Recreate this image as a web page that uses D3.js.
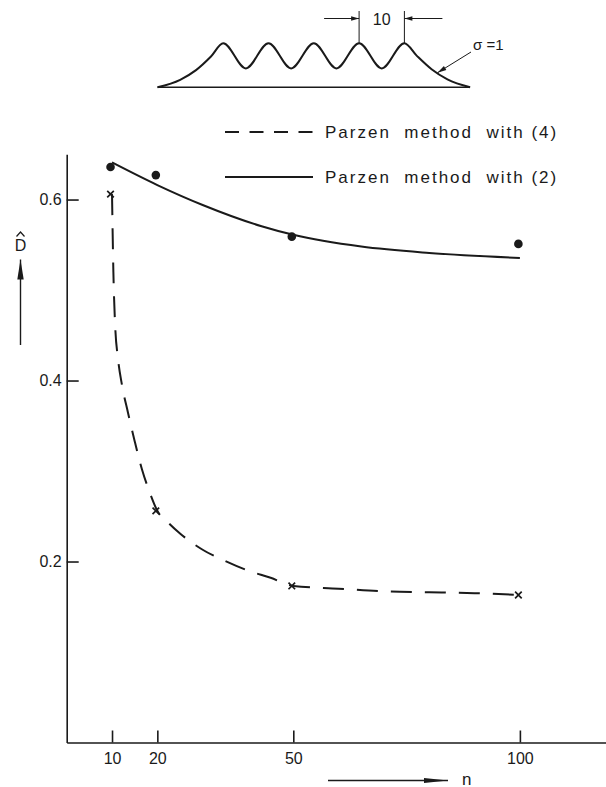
<!DOCTYPE html>
<html lang="en">
<head>
<meta charset="UTF-8">
<title>Parzen estimate of D versus n</title>
<script src="https://d3js.org/d3.v7.min.js"></script>
<style>
  body { margin: 0; background: #fff; }
  svg { display: block; font-family: "Liberation Sans", Arial, sans-serif; }
  .axis path, .axis line { stroke: #1a1a1a; stroke-width: 1.6; }
  .axis text { font-size: 16px; fill: #1a1a1a; font-family: "Liberation Sans", Arial, sans-serif; }
  .legend text { font-size: 17px; letter-spacing: 2px; white-space: pre; fill: #1a1a1a; }
</style>
</head>
<body>
<svg id="chart" width="606" height="787"></svg>
<script>
var ink = "#1a1a1a";

// axis ticks
var nTicks = [10, 20, 50, 100];
var dTicks = [0.2, 0.4, 0.6];

// measured estimates
var dotsEq2 = [[10, 0.636], [20, 0.627], [50, 0.559], [100, 0.551]];
var crossEq4 = [[10, 0.606], [20, 0.256], [50, 0.173], [100, 0.163]];

// hand drawn curves through them
var curveEq2 = [[10, 0.641], [20, 0.616], [30, 0.594], [43, 0.5705], [50, 0.561],
                [65, 0.548], [80, 0.541], [100, 0.5355]];
var curveEq4 = [[10, 0.606], [10.3, 0.52], [10.7, 0.46], [11.3, 0.425], [12.2, 0.395],
                [13.5, 0.365], [15, 0.333], [16.6, 0.302], [18.2, 0.278], [20, 0.256],
                [22.5, 0.2425], [25, 0.231], [30, 0.213], [35, 0.2005], [40, 0.19],
                [45, 0.182], [50, 0.173], [60, 0.170], [70, 0.167], [80, 0.166],
                [90, 0.165], [100, 0.163]];

var legendLabels = ["Parzen  method  with (4)", "Parzen  method  with (2)"];

// inset: mixture of 5 gaussians, peaks 10 apart, sigma = 1
var insetPeaks = [0, 10, 20, 30, 40];
var insetShape = [[-14.5, 0], [-9.5, 0.17], [-6, 0.39], [-2.7, 0.7], [0, 1], [5, 0.43],
                  [10, 1], [15, 0.43], [20, 1], [25, 0.43], [30, 1], [35, 0.43], [40, 1],
                  [42.7, 0.72], [46, 0.41], [49.5, 0.18], [54.5, 0]];
var sigmaPoint = [47.3, 0.33];

var svg = d3.select("#chart");

var x = d3.scaleLinear().domain([0, 119]).range([66.7, 606]);
var y = d3.scaleLinear().domain([0, 0.65]).range([742.5, 154.3]);

function arrowHead(g, x1, y1, x2, y2, len, half) {
    var a = Math.atan2(y2 - y1, x2 - x1);
    var bx = x2 - len * Math.cos(a), by = y2 - len * Math.sin(a);
    var px = -Math.sin(a) * half, py = Math.cos(a) * half;
    g.append("path")
        .attr("d", "M" + x2 + "," + y2 + "L" + (bx + px) + "," + (by + py) +
                   "L" + (bx - px) + "," + (by - py) + "Z")
        .attr("fill", ink);
}

function arrow(g, x1, y1, x2, y2, len, half, width) {
    g.append("line")
        .attr("x1", x1).attr("y1", y1).attr("x2", x2).attr("y2", y2)
        .attr("stroke", ink).attr("stroke-width", width || 1.3);
    arrowHead(g, x1, y1, x2, y2, len, half);
}

// axes
svg.append("g")
    .attr("class", "axis")
    .attr("transform", "translate(0," + y(0) + ")")
    .call(d3.axisBottom(x).tickValues(nTicks).tickSizeInner(-12).tickSizeOuter(0)
        .tickPadding(10).tickFormat(d3.format("d")));

svg.append("g")
    .attr("class", "axis")
    .attr("transform", "translate(" + x(0) + ",0)")
    .call(d3.axisLeft(y).tickValues(dTicks).tickSizeInner(-12).tickSizeOuter(0)
        .tickPadding(5).tickFormat(d3.format(".1f")));

// curves
var line = d3.line()
    .x(function(d) { return x(d[0]); })
    .y(function(d) { return y(d[1]); })
    .curve(d3.curveMonotoneX);

svg.append("path")
    .datum(curveEq2)
    .attr("d", line)
    .attr("fill", "none").attr("stroke", ink).attr("stroke-width", 2);

svg.append("path")
    .datum(curveEq4)
    .attr("d", line)
    .attr("fill", "none").attr("stroke", ink).attr("stroke-width", 2)
    .attr("stroke-dasharray", "21,13");

svg.selectAll(".dot")
    .data(dotsEq2)
    .enter().append("circle")
    .attr("class", "dot")
    .attr("cx", function(d) { return x(d[0]) - 1.5; })
    .attr("cy", function(d) { return y(d[1]); })
    .attr("r", 4.3)
    .attr("fill", ink);

svg.selectAll(".cross")
    .data(crossEq4)
    .enter().append("path")
    .attr("class", "cross")
    .attr("transform", function(d) { return "translate(" + (x(d[0]) - 1.5) + "," + y(d[1]) + ")"; })
    .attr("d", "M-3.3,-3.3L3.3,3.3M-3.3,3.3L3.3,-3.3")
    .attr("stroke", ink).attr("stroke-width", 1.7);

// legend
var legend = svg.append("g").attr("class", "legend");
legend.selectAll("line")
    .data(legendLabels)
    .enter().append("line")
    .attr("x1", 225).attr("x2", 313)
    .attr("y1", function(d, i) { return 132 + i * 45; })
    .attr("y2", function(d, i) { return 132 + i * 45; })
    .attr("stroke", ink).attr("stroke-width", 2)
    .attr("stroke-dasharray", function(d, i) { return i === 0 ? "14,10.5" : null; });
legend.selectAll("text")
    .data(legendLabels)
    .enter().append("text")
    .attr("x", 325)
    .attr("y", function(d, i) { return 132 + i * 45; })
    .attr("dy", "0.35em")
    .text(function(d) { return d; });

// axis titles with arrows
var titles = svg.append("g");
titles.append("text")
    .attr("x", 20.5).attr("y", 251)
    .attr("text-anchor", "middle")
    .attr("font-size", 16).attr("fill", ink)
    .text("D");
titles.append("path")
    .attr("d", "M16.5,236.5L20.5,232L24.5,236.5")
    .attr("fill", "none").attr("stroke", ink).attr("stroke-width", 1.2);
arrow(titles, 20.5, 345, 20.5, 259.5, 20, 3.2, 1.4);

arrow(titles, 328, 780.5, 448, 780.5, 24, 2.4, 1.3);
titles.append("text")
    .attr("x", 462).attr("y", 784.5)
    .attr("font-size", 17).attr("fill", ink)
    .text("n");

// inset sketch
var ix = d3.scaleLinear().domain([0, 40]).range([223.2, 404.4]);
var iy = d3.scaleLinear().domain([0, 1]).range([87.3, 43.3]);
var inset = svg.append("g");

inset.append("line")
    .attr("x1", ix(insetShape[0][0])).attr("x2", ix(insetShape[insetShape.length - 1][0]))
    .attr("y1", iy(0)).attr("y2", iy(0))
    .attr("stroke", ink).attr("stroke-width", 1.5);

inset.append("path")
    .datum(insetShape)
    .attr("d", d3.line()
        .x(function(d) { return ix(d[0]); })
        .y(function(d) { return iy(d[1]); })
        .curve(d3.curveMonotoneX))
    .attr("fill", "none").attr("stroke", ink).attr("stroke-width", 2);

// spacing dimension between the last two peaks
var pA = insetPeaks[3], pB = insetPeaks[4];
[pA, pB].forEach(function(p) {
    inset.append("line")
        .attr("x1", ix(p)).attr("x2", ix(p))
        .attr("y1", 11).attr("y2", iy(1))
        .attr("stroke", ink).attr("stroke-width", 1);
});
arrow(inset, ix(pA) - 35, 18.5, ix(pA), 18.5, 8, 2.3, 1);
arrow(inset, ix(pB) + 38, 18.5, ix(pB), 18.5, 8, 2.3, 1);
inset.append("text")
    .attr("x", (ix(pA) + ix(pB)) / 2).attr("y", 24.5)
    .attr("text-anchor", "middle")
    .attr("font-size", 16).attr("fill", ink)
    .text(pB - pA);

arrow(inset, 471, 52, ix(sigmaPoint[0]), iy(sigmaPoint[1]), 9, 2.3, 1);
inset.append("text")
    .attr("x", 473).attr("y", 50)
    .attr("font-size", 15).attr("fill", ink)
    .text("\u03c3 =1");
</script>
</body>
</html>
